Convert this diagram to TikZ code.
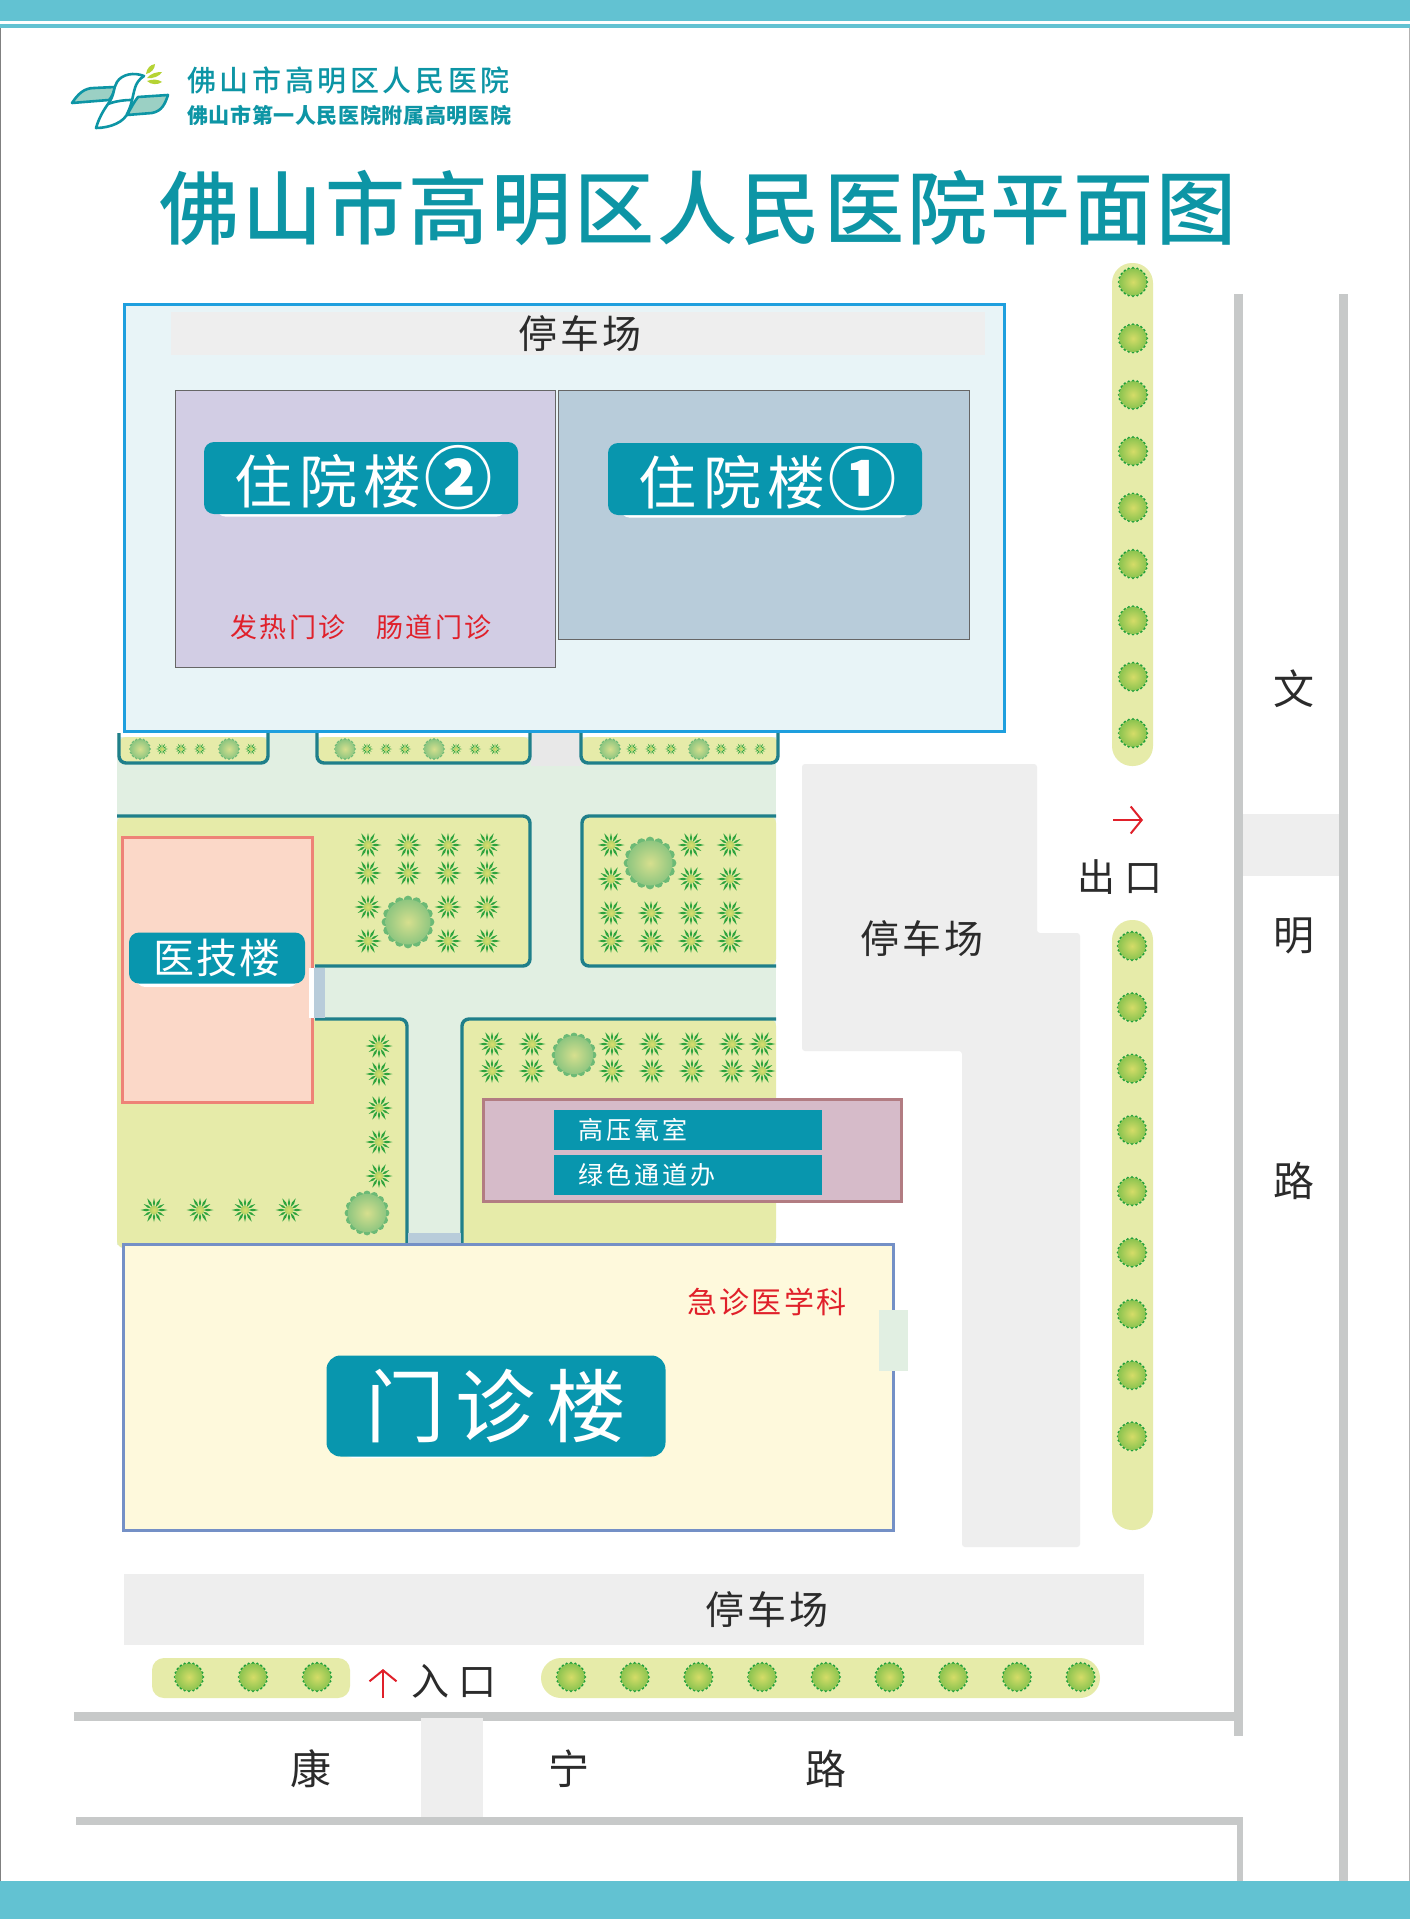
\documentclass[tikz,border=0pt]{standalone}
\usepackage{fontspec}
\setmainfont{Noto Sans CJK SC}
\newfontfamily\cjkmed{Noto Sans CJK SC Medium}
\usepackage{tikz}
\usetikzlibrary{positioning, shadows, arrows.meta}
\newcommand{\lsp}[2]{\fontsize{#1pt}{#1pt}\selectfont\addfontfeature{LetterSpace=#2}}
\newcommand{\ringnum}[1]{\hspace{3pt}{\fontsize{68pt}{68pt}\selectfont\bfseries #1}}
\definecolor{bandblue}{HTML}{62C2D2}
\definecolor{titleteal}{HTML}{0D95A5}
\definecolor{signteal}{HTML}{0896AE}
\definecolor{curbteal}{HTML}{1F7F8A}
\definecolor{roadgreen}{HTML}{E1EFE2}
\definecolor{lawngreen}{HTML}{E6EBA9}
\definecolor{lotgrey}{HTML}{EEEEEE}
\definecolor{roadgrey}{HTML}{C7C9C9}
\definecolor{doorblue}{HTML}{B8CCDA}
\definecolor{inkdark}{HTML}{2B2B2B}
\definecolor{alertred}{HTML}{E0202A}
\definecolor{wardyard}{HTML}{E8F4F7}
\definecolor{yardblue}{HTML}{1E9FDE}
\definecolor{wardviolet}{HTML}{D2CDE4}
\definecolor{techpeach}{HTML}{FBD8C8}
\definecolor{techred}{HTML}{EE8277}
\definecolor{oxygenpink}{HTML}{D6BBC9}
\definecolor{oxygenrim}{HTML}{B27C82}
\definecolor{clinicyellow}{HTML}{FEF9DC}
\definecolor{clinicblue}{HTML}{7490C6}
\definecolor{logomint}{HTML}{9BD0C4}
\definecolor{leafgreen}{HTML}{B5D334}
\definecolor{shrubcore}{HTML}{D5DC68}
\definecolor{shrubmid}{HTML}{8CC450}
\definecolor{shrubrim}{HTML}{3BA840}
\definecolor{shrubdot}{HTML}{1FA03A}
\definecolor{treecore}{HTML}{D6DF8E}
\definecolor{treemid}{HTML}{8FC680}
\definecolor{treerim}{HTML}{6CBA76}
\definecolor{sprigcore}{HTML}{D8DE70}
\definecolor{sprigrim}{HTML}{8CC45A}
\definecolor{sprigleaf}{HTML}{2DA33C}
\pgfdeclareradialshading{shrubshade}{\pgfpoint{0bp}{0bp}}{color(0bp)=(shrubcore); color(25bp)=(shrubmid); color(50bp)=(shrubrim)}
\pgfdeclareradialshading{treeshade}{\pgfpoint{0bp}{0bp}}{color(0bp)=(treecore); color(25bp)=(treemid); color(50bp)=(treerim)}
\pgfdeclareradialshading{sprigshade}{\pgfpoint{0bp}{0bp}}{color(0bp)=(sprigcore); color(50bp)=(sprigrim)}
\tikzset{
    signbox/.style={fill=signteal, text=white, rounded corners=10pt, inner sep=0pt,
        general shadow={fill=white, draw=none, shadow yshift=-6pt, shadow scale=.92}},
    sublabel/.style={fill=signteal, text=white, inner ysep=0pt, inner xsep=24pt,
        minimum height=40pt, text width=220pt, align=left, font=\lsp{25}{12}},
    lotlabel/.style={text=inkdark, font=\lsp{39}{8}},
    roadlabel/.style={text=inkdark, font=\lsp{41}{0}},
    gatelabel/.style={text=inkdark, font=\lsp{38}{22}},
    alertlabel/.style={text=alertred, font=\lsp{27}{8}},
    curb/.style={draw=curbteal, line width=3.4pt, rounded corners=7pt},
    roadline/.style={fill=roadgrey},
    logoline/.style={draw=titleteal, line width=2.6pt, line join=round, line cap=round},
    gatearrow/.style={draw=alertred, line width=2pt, -{Straight Barb[length=11pt, width=27pt]}},
    shrub/.pic={
        \foreach \a in {0,18,...,342} \fill[shrubdot] (\a:13.5) circle (1.8);
        \shade[shading=shrubshade] (0,0) circle (13.5);
    },
    bigtree/.pic={
        \foreach \a in {0,22.5,...,337.5} \fill[treerim] (\a:22) circle (4.4);
        \shade[shading=treeshade] (0,0) circle (22.5);
    },
    sprig/.pic={
        \foreach \a in {0,60,...,300} \fill[sprigleaf] (\a:3) -- (\a-9:8) -- (\a:13.5) -- (\a+9:8) -- cycle;
        \foreach \a in {30,90,...,330} \fill[sprigleaf] (\a:3) -- (\a-9:7) -- (\a:12) -- (\a+9:7) -- cycle;
        \shade[shading=sprigshade] (0,0) circle (4.5);
    },
}

\begin{document}
\begin{tikzpicture}[x=1pt, y=-1pt]
    \useasboundingbox (0,0) rectangle (1410,1919);
    \fill[white] (0,0) rectangle (1410,1919);
    \fill[gray] (0,27) rectangle (1,1881);
    \fill[gray!60] (1409,27) rectangle (1410,1881);
    \fill[bandblue] (0,0) rectangle (1410,21);
    \fill[bandblue] (0,24) rectangle (1410,28);
    \fill[bandblue] (0,1881) rectangle (1410,1919);

    \path[fill=logomint, logoline]
        (72,103) .. controls (78,94) and (84,88) .. (94,88) -- (115,87) .. controls (114,92) and (112,97) .. (109,100) -- (84,102) -- cycle;
    \path[fill=logomint, logoline]
        (138,97) -- (168,95) .. controls (165,104) and (162,111) .. (152,113) -- (127,115) .. controls (131,108) and (134,102) .. (138,97) -- cycle;
    \path[fill=white, logoline]
        (144,76) .. controls (134,72) and (122,74) .. (117,82) .. controls (113,88) and (115,95) .. (108,104)
        .. controls (103,111) and (99,118) .. (96,128) .. controls (110,128) and (125,122) .. (128,112)
        .. controls (132,104) and (133,94) .. (135,88) .. controls (136,84) and (139,79) .. (144,76) -- cycle;
    \draw[logoline] (108,104) .. controls (113,102) and (122,100) .. (131,100);
    \fill[leafgreen] (146,74) .. controls (147,68) and (150,65) .. (155,64) .. controls (155,69) and (151,73) .. (146,74) -- cycle;
    \fill[leafgreen] (147,78) .. controls (151,73) and (157,72) .. (162,72) .. controls (160,76) and (153,79) .. (147,78) -- cycle;
    \fill[leafgreen] (147,81) .. controls (152,79) and (158,79) .. (162,82) .. controls (158,85) and (151,85) .. (147,81) -- cycle;

    \node[anchor=west, inner sep=0pt, text=titleteal, font=\cjkmed\lsp{29}{12.5}] (hospital) at (187,80) {佛山市高明区人民医院};
    \node[anchor=west, inner sep=0pt, text=titleteal, font=\lsp{21}{3}\bfseries] (affiliate) at (187,115) {佛山市第一人民医院附属高明医院};
    \node[text=titleteal, inner sep=0pt, font=\cjkmed\lsp{80}{3.8}] (planTitle) at (698,208) {佛山市高明区人民医院平面图};

    \filldraw[fill=wardyard, draw=yardblue, line width=3pt] (124,304) rectangle (1004,731);
    \node[fill=lotgrey, minimum width=814pt, minimum height=43pt, inner sep=0pt] (northLot) at (578,333.5) {};
    \node[lotlabel] (northLotText) at (580,334) {停车场};
    \filldraw[fill=wardviolet, draw=gray!80!black, line width=.6pt] (175,390) rectangle (555,667);
    \filldraw[fill=doorblue, draw=gray!80!black, line width=.6pt] (558,390) rectangle (969,639);
    \node[signbox, minimum width=314pt, minimum height=72pt, font=\lsp{58}{12}] (wardTwo) at (361,478) {\hspace{5pt}\raisebox{3pt}{住院楼\ringnum{②}}};
    \node[signbox, minimum width=314pt, minimum height=72pt, font=\lsp{58}{12}] (wardOne) at (765,479) {\hspace{5pt}\raisebox{3pt}{住院楼\ringnum{①}}};
    \node[alertlabel] (fever) at (288,627) {发热门诊};
    \node[alertlabel] (bowel) at (434,627) {肠道门诊};

    \fill[roadgreen] (117,733) rectangle (776,1245);
    \fill[gray!18] (531,733) rectangle (581,766);
    \foreach \xa/\xb in {119/268, 317/530, 581/778} {
        \fill[white] (\xa,733) rectangle (\xb,737);
        \fill[lawngreen, rounded corners=7pt] (\xa,737) -- (\xb,737) -- (\xb,763) -- (\xa,763) -- cycle;
        \draw[curb] (\xa,733) -- (\xa,763) -- (\xb,763) -- (\xb,733);
    }
    \foreach \x in {140,229,345,434,610,699} \pic[scale=.42] at (\x,749) {bigtree};
    \foreach \x in {162,181,200,251,367,386,405,456,475,495,632,651,671,721,741,760} \pic[scale=.45] at (\x,749) {sprig};

    \fill[lawngreen, rounded corners=7pt] (117,816) -- (530,816) -- (530,966) -- (117,966) -- cycle;
    \draw[curb] (117,816) -- (530,816) -- (530,966) -- (315,966);
    \fill[lawngreen, rounded corners=7pt] (776,816) -- (582,816) -- (582,966) -- (776,966) -- cycle;
    \draw[curb] (776,816) -- (582,816) -- (582,966) -- (776,966);
    \fill[lawngreen, rounded corners=7pt] (117,1019) -- (407,1019) -- (407,1248) -- (117,1248) -- cycle;
    \draw[curb] (315,1019) -- (407,1019) -- (407,1243);
    \fill[lawngreen, rounded corners=7pt] (776,1019) -- (462,1019) -- (462,1245) -- (776,1245) -- cycle;
    \draw[curb] (776,1019) -- (462,1019) -- (462,1243);
    \fill[lawngreen] (117,960) rectangle (122,1025);

    \foreach \x/\y in {368/845,408/845,448/845,487/845, 368/873,408/873,448/873,487/873,
                       368/907,448/907,487/907, 368/941,448/941,487/941,
                       611/845,691/845,730/845, 611/879,691/879,730/879,
                       611/913,651/913,691/913,730/913, 611/941,651/941,691/941,730/941,
                       379/1046,379/1074,379/1108,379/1142,379/1176,
                       154/1210,200/1210,245/1210,289/1210,
                       492/1044,532/1044,612/1044,652/1044,692/1044,732/1044,762/1044,
                       492/1071,532/1071,612/1071,652/1071,692/1071,732/1071,762/1071}
        \pic at (\x,\y) {sprig};
    \pic at (408,922) {bigtree};
    \pic at (650,863) {bigtree};
    \pic[scale=.85] at (367,1213) {bigtree};
    \pic[scale=.85] at (574,1055) {bigtree};

    \filldraw[fill=techpeach, draw=techred, line width=3pt] (122,837) rectangle (312,1102);
    \fill[white] (309,968) rectangle (314,1018);
    \fill[doorblue] (314,968) rectangle (325,1018);
    \node[signbox, minimum width=176pt, minimum height=51pt, font=\lsp{41}{5}] (techBlock) at (217,958) {医技楼};

    \filldraw[fill=oxygenpink, draw=oxygenrim, line width=3pt] (483,1099) rectangle (901,1201);
    \node[sublabel, anchor=north west] (hyperOxygen) at (554,1110) {高压氧室};
    \node[sublabel, below=4pt of hyperOxygen] (greenChannel) {绿色通道办};

    \filldraw[fill=clinicyellow, draw=clinicblue, line width=3pt] (123,1244) rectangle (893,1530);
    \fill[doorblue] (408,1233) rectangle (461,1243);
    \fill[roadgreen] (879,1310) rectangle (908,1371);
    \node[alertlabel, font=\lsp{30}{7}] (emergency) at (767,1302) {急诊医学科};
    \node[signbox, minimum width=339pt, minimum height=101pt, rounded corners=14pt, font=\lsp{80}{13}] (outpatient) at (496,1406) {门诊楼};

    \fill[lotgrey, rounded corners=3pt] (802,764) -- (1037,764) -- (1037,933) -- (1080,933) -- (1080,1547) -- (962,1547) -- (962,1051) -- (802,1051) -- cycle;
    \node[lotlabel] (eastLotText) at (922,939) {停车场};
    \node[fill=lotgrey, minimum width=1020pt, minimum height=71pt, inner sep=0pt] (southLot) at (634,1609.5) {};
    \node[lotlabel] (southLotText) at (767,1610) {停车场};

    \fill[lawngreen, rounded corners=20pt] (1112,263) rectangle (1153,766);
    \fill[lawngreen, rounded corners=20pt] (1112,920) rectangle (1153,1530);
    \fill[lawngreen, rounded corners=12pt] (152,1658) rectangle (350,1698);
    \fill[lawngreen, rounded corners=20pt] (541,1658) rectangle (1100,1698);
    \foreach \n in {0,...,8} {
        \pic at (1133,{282+56.4*\n}) {shrub};
        \pic at (1132,{946+61.3*\n}) {shrub};
        \pic at ({571+63.7*\n},1677) {shrub};
    }
    \foreach \x in {189,253,317} \pic at (\x,1677) {shrub};

    \coordinate (entryFoot) at (383,1698);
    \coordinate (entryTip) at (383,1669);
    \draw[gatearrow] (entryFoot) -- (entryTip);
    \node[gatelabel] (entryText) at (454,1681) {入口};
    \coordinate (exitFoot) at (1113,820);
    \coordinate (exitTip) at (1143,820);
    \draw[gatearrow] (exitFoot) -- (exitTip);
    \node[gatelabel] (exitText) at (1120,877) {出口};

    \fill[roadline] (74,1712) rectangle (1236,1721);
    \fill[roadline] (76,1817) rectangle (1243,1825);
    \fill[roadline] (1234,294) rectangle (1243,1736);
    \fill[roadline] (1237,1817) rectangle (1243,1881);
    \fill[roadline] (1339,294) rectangle (1348,1881);
    \fill[lotgrey] (1243,814) rectangle (1339,876);
    \fill[lotgrey] (421,1718) rectangle (483,1817);
    \node[roadlabel] (wen) at (1294,689) {文};
    \node[roadlabel] (ming) at (1294,936) {明};
    \node[roadlabel] (luEast) at (1294,1181) {路};
    \node[roadlabel] (kang) at (311,1769) {康};
    \node[roadlabel] (ning) at (569,1769) {宁};
    \node[roadlabel] (luSouth) at (826,1769) {路};
\end{tikzpicture}
\end{document}
